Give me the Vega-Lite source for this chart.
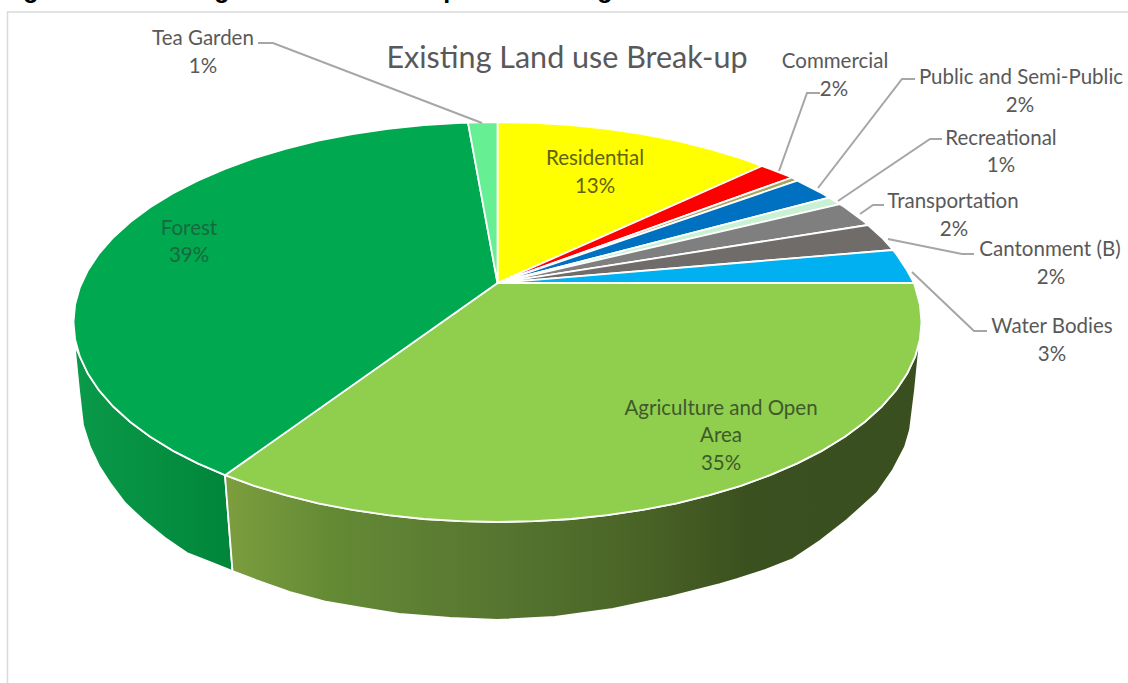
{"$schema":"https://vega.github.io/schema/vega-lite/v6.json","width":1128,"height":683,"padding":0,"autosize":{"type":"none"},"background":"white","config":{"view":{"stroke":null}},
"datasets":{
"walls":[
{"slice":"Forest","i":0,"x":74.5,"y":345},{"slice":"Forest","i":1,"x":79.9,"y":356.7},{"slice":"Forest","i":2,"x":88,"y":373.8},{"slice":"Forest","i":3,"x":99.1,"y":390.4},{"slice":"Forest","i":4,"x":113.2,"y":406.5},{"slice":"Forest","i":5,"x":130.3,"y":422},{"slice":"Forest","i":6,"x":150.2,"y":436.7},{"slice":"Forest","i":7,"x":172.7,"y":450.6},{"slice":"Forest","i":8,"x":197.7,"y":463.4},{"slice":"Forest","i":9,"x":225,"y":475.2},{"slice":"Forest","i":10,"x":232.5,"y":571},{"slice":"Forest","i":11,"x":210,"y":562},{"slice":"Forest","i":12,"x":187,"y":553},{"slice":"Forest","i":13,"x":165,"y":538},{"slice":"Forest","i":14,"x":143,"y":520},{"slice":"Forest","i":15,"x":125,"y":503},{"slice":"Forest","i":16,"x":110,"y":483},{"slice":"Forest","i":17,"x":99,"y":466},{"slice":"Forest","i":18,"x":90,"y":447},{"slice":"Forest","i":19,"x":83,"y":425},{"slice":"Forest","i":20,"x":79,"y":390},{"slice":"Forest","i":21,"x":74.5,"y":345},
{"slice":"Agriculture","i":0,"x":225,"y":475.2},{"slice":"Agriculture","i":1,"x":254.3,"y":485.8},{"slice":"Agriculture","i":2,"x":285.5,"y":495.2},{"slice":"Agriculture","i":3,"x":318.3,"y":503.3},{"slice":"Agriculture","i":4,"x":352.5,"y":509.9},{"slice":"Agriculture","i":5,"x":388,"y":515.2},{"slice":"Agriculture","i":6,"x":423.9,"y":519},{"slice":"Agriculture","i":7,"x":460.5,"y":521.2},{"slice":"Agriculture","i":8,"x":497.5,"y":522},{"slice":"Agriculture","i":9,"x":534.5,"y":521.2},{"slice":"Agriculture","i":10,"x":571.1,"y":519},{"slice":"Agriculture","i":11,"x":607.2,"y":515.2},{"slice":"Agriculture","i":12,"x":642.5,"y":509.9},{"slice":"Agriculture","i":13,"x":676.7,"y":503.3},{"slice":"Agriculture","i":14,"x":709.5,"y":495.2},{"slice":"Agriculture","i":15,"x":740.7,"y":485.8},{"slice":"Agriculture","i":16,"x":770,"y":475.2},{"slice":"Agriculture","i":17,"x":797.3,"y":463.4},{"slice":"Agriculture","i":18,"x":822.3,"y":450.6},{"slice":"Agriculture","i":19,"x":844.8,"y":436.7},{"slice":"Agriculture","i":20,"x":864.7,"y":422},{"slice":"Agriculture","i":21,"x":881.8,"y":406.5},{"slice":"Agriculture","i":22,"x":895.9,"y":390.4},{"slice":"Agriculture","i":23,"x":907,"y":373.8},{"slice":"Agriculture","i":24,"x":915.1,"y":356.7},{"slice":"Agriculture","i":25,"x":919.9,"y":339.4},{"slice":"Agriculture","i":26,"x":921.5,"y":325},{"slice":"Agriculture","i":27,"x":919,"y":350},{"slice":"Agriculture","i":28,"x":915,"y":390},{"slice":"Agriculture","i":29,"x":910,"y":430},{"slice":"Agriculture","i":30,"x":905,"y":447},{"slice":"Agriculture","i":31,"x":893,"y":470},{"slice":"Agriculture","i":32,"x":877,"y":493},{"slice":"Agriculture","i":33,"x":847,"y":520},{"slice":"Agriculture","i":34,"x":820,"y":541},{"slice":"Agriculture","i":35,"x":793,"y":559},{"slice":"Agriculture","i":36,"x":765,"y":570},{"slice":"Agriculture","i":37,"x":737,"y":579},{"slice":"Agriculture","i":38,"x":720,"y":584},{"slice":"Agriculture","i":39,"x":665,"y":598},{"slice":"Agriculture","i":40,"x":613,"y":609},{"slice":"Agriculture","i":41,"x":555,"y":617},{"slice":"Agriculture","i":42,"x":497,"y":620},{"slice":"Agriculture","i":43,"x":450,"y":618},{"slice":"Agriculture","i":44,"x":399,"y":614},{"slice":"Agriculture","i":45,"x":362,"y":608},{"slice":"Agriculture","i":46,"x":327,"y":602},{"slice":"Agriculture","i":47,"x":290,"y":592},{"slice":"Agriculture","i":48,"x":256,"y":580},{"slice":"Agriculture","i":49,"x":232.5,"y":571},{"slice":"Agriculture","i":50,"x":225,"y":475.2}
],
"slices":[
{"slice":"Residential","i":0,"x":497.5,"y":283},{"slice":"Residential","i":1,"x":497.5,"y":122},{"slice":"Residential","i":2,"x":534.5,"y":122.8},{"slice":"Residential","i":3,"x":571.1,"y":125},{"slice":"Residential","i":4,"x":607.2,"y":128.8},{"slice":"Residential","i":5,"x":642.5,"y":134.1},{"slice":"Residential","i":6,"x":676.7,"y":140.7},{"slice":"Residential","i":7,"x":709.5,"y":148.8},{"slice":"Residential","i":8,"x":740.7,"y":158.2},{"slice":"Residential","i":9,"x":762,"y":166},{"slice":"Residential","i":10,"x":497.5,"y":283},
{"slice":"Commercial","i":0,"x":497.5,"y":283},{"slice":"Commercial","i":1,"x":762,"y":166},{"slice":"Commercial","i":2,"x":770,"y":168.8},{"slice":"Commercial","i":3,"x":792,"y":177.5},{"slice":"Commercial","i":4,"x":497.5,"y":283},
{"slice":"Unlabelled","i":0,"x":497.5,"y":283},{"slice":"Unlabelled","i":1,"x":792,"y":177.5},{"slice":"Unlabelled","i":2,"x":797.3,"y":180.6},{"slice":"Unlabelled","i":3,"x":497.5,"y":283},
{"slice":"Public and Semi-Public","i":0,"x":497.5,"y":283},{"slice":"Public and Semi-Public","i":1,"x":797.3,"y":180.6},{"slice":"Public and Semi-Public","i":2,"x":822.3,"y":193.4},{"slice":"Public and Semi-Public","i":3,"x":829,"y":197.6},{"slice":"Public and Semi-Public","i":4,"x":497.5,"y":283},
{"slice":"Recreational","i":0,"x":497.5,"y":283},{"slice":"Recreational","i":1,"x":829,"y":197.6},{"slice":"Recreational","i":2,"x":840,"y":204.2},{"slice":"Recreational","i":3,"x":497.5,"y":283},
{"slice":"Transportation","i":0,"x":497.5,"y":283},{"slice":"Transportation","i":1,"x":840,"y":204.2},{"slice":"Transportation","i":2,"x":844.8,"y":207.3},{"slice":"Transportation","i":3,"x":864.7,"y":222},{"slice":"Transportation","i":4,"x":868,"y":225},{"slice":"Transportation","i":5,"x":497.5,"y":283},
{"slice":"Cantonment (B)","i":0,"x":497.5,"y":283},{"slice":"Cantonment (B)","i":1,"x":868,"y":225},{"slice":"Cantonment (B)","i":2,"x":881.8,"y":237.5},{"slice":"Cantonment (B)","i":3,"x":893,"y":250},{"slice":"Cantonment (B)","i":4,"x":497.5,"y":283},
{"slice":"Water Bodies","i":0,"x":497.5,"y":283},{"slice":"Water Bodies","i":1,"x":893,"y":250},{"slice":"Water Bodies","i":2,"x":895.9,"y":253.6},{"slice":"Water Bodies","i":3,"x":907,"y":270.2},{"slice":"Water Bodies","i":4,"x":914,"y":283},{"slice":"Water Bodies","i":5,"x":497.5,"y":283},
{"slice":"Agriculture and Open Area","i":0,"x":497.5,"y":283},{"slice":"Agriculture and Open Area","i":1,"x":914,"y":283},{"slice":"Agriculture and Open Area","i":2,"x":919.9,"y":304.6},{"slice":"Agriculture and Open Area","i":3,"x":921.5,"y":322},{"slice":"Agriculture and Open Area","i":4,"x":919.9,"y":339.4},{"slice":"Agriculture and Open Area","i":5,"x":915.1,"y":356.7},{"slice":"Agriculture and Open Area","i":6,"x":907,"y":373.8},{"slice":"Agriculture and Open Area","i":7,"x":895.9,"y":390.4},{"slice":"Agriculture and Open Area","i":8,"x":881.8,"y":406.5},{"slice":"Agriculture and Open Area","i":9,"x":864.7,"y":422},{"slice":"Agriculture and Open Area","i":10,"x":844.8,"y":436.7},{"slice":"Agriculture and Open Area","i":11,"x":822.3,"y":450.6},{"slice":"Agriculture and Open Area","i":12,"x":797.3,"y":463.4},{"slice":"Agriculture and Open Area","i":13,"x":770,"y":475.2},{"slice":"Agriculture and Open Area","i":14,"x":740.7,"y":485.8},{"slice":"Agriculture and Open Area","i":15,"x":709.5,"y":495.2},{"slice":"Agriculture and Open Area","i":16,"x":676.7,"y":503.3},{"slice":"Agriculture and Open Area","i":17,"x":642.5,"y":509.9},{"slice":"Agriculture and Open Area","i":18,"x":607.2,"y":515.2},{"slice":"Agriculture and Open Area","i":19,"x":571.1,"y":519},{"slice":"Agriculture and Open Area","i":20,"x":534.5,"y":521.2},{"slice":"Agriculture and Open Area","i":21,"x":497.5,"y":522},{"slice":"Agriculture and Open Area","i":22,"x":460.5,"y":521.2},{"slice":"Agriculture and Open Area","i":23,"x":423.9,"y":519},{"slice":"Agriculture and Open Area","i":24,"x":388,"y":515.2},{"slice":"Agriculture and Open Area","i":25,"x":352.5,"y":509.9},{"slice":"Agriculture and Open Area","i":26,"x":318.3,"y":503.3},{"slice":"Agriculture and Open Area","i":27,"x":285.5,"y":495.2},{"slice":"Agriculture and Open Area","i":28,"x":254.3,"y":485.8},{"slice":"Agriculture and Open Area","i":29,"x":225,"y":475.2},{"slice":"Agriculture and Open Area","i":30,"x":497.5,"y":283},
{"slice":"Forest","i":0,"x":497.5,"y":283},{"slice":"Forest","i":1,"x":225,"y":475.2},{"slice":"Forest","i":2,"x":197.7,"y":463.4},{"slice":"Forest","i":3,"x":172.7,"y":450.6},{"slice":"Forest","i":4,"x":150.2,"y":436.7},{"slice":"Forest","i":5,"x":130.3,"y":422},{"slice":"Forest","i":6,"x":113.2,"y":406.5},{"slice":"Forest","i":7,"x":99.1,"y":390.4},{"slice":"Forest","i":8,"x":88,"y":373.8},{"slice":"Forest","i":9,"x":79.9,"y":356.7},{"slice":"Forest","i":10,"x":75.1,"y":339.4},{"slice":"Forest","i":11,"x":73.5,"y":322},{"slice":"Forest","i":12,"x":75.1,"y":304.6},{"slice":"Forest","i":13,"x":79.9,"y":287.3},{"slice":"Forest","i":14,"x":88,"y":270.2},{"slice":"Forest","i":15,"x":99.1,"y":253.6},{"slice":"Forest","i":16,"x":113.2,"y":237.5},{"slice":"Forest","i":17,"x":130.3,"y":222},{"slice":"Forest","i":18,"x":150.2,"y":207.3},{"slice":"Forest","i":19,"x":172.7,"y":193.4},{"slice":"Forest","i":20,"x":197.7,"y":180.6},{"slice":"Forest","i":21,"x":225,"y":168.8},{"slice":"Forest","i":22,"x":254.3,"y":158.2},{"slice":"Forest","i":23,"x":285.5,"y":148.8},{"slice":"Forest","i":24,"x":318.3,"y":140.7},{"slice":"Forest","i":25,"x":352.5,"y":134.1},{"slice":"Forest","i":26,"x":388,"y":128.8},{"slice":"Forest","i":27,"x":423.9,"y":125},{"slice":"Forest","i":28,"x":460.5,"y":122.8},{"slice":"Forest","i":29,"x":468,"y":122.6},{"slice":"Forest","i":30,"x":497.5,"y":283},
{"slice":"Tea Garden","i":0,"x":497.5,"y":283},{"slice":"Tea Garden","i":1,"x":468,"y":122.6},{"slice":"Tea Garden","i":2,"x":497.5,"y":122},{"slice":"Tea Garden","i":3,"x":497.5,"y":283}
],
"leaders":[
{"label":"Tea Garden","i":0,"x":258,"y":43},{"label":"Tea Garden","i":1,"x":273,"y":43},{"label":"Tea Garden","i":2,"x":482,"y":123},
{"label":"Commercial","i":0,"x":820,"y":93},{"label":"Commercial","i":1,"x":807,"y":93},{"label":"Commercial","i":2,"x":779,"y":171},
{"label":"Public and Semi-Public","i":0,"x":915,"y":79},{"label":"Public and Semi-Public","i":1,"x":902,"y":79},{"label":"Public and Semi-Public","i":2,"x":818,"y":188},
{"label":"Recreational","i":0,"x":942,"y":139},{"label":"Recreational","i":1,"x":930,"y":139},{"label":"Recreational","i":2,"x":838,"y":201},
{"label":"Transportation","i":0,"x":884,"y":205},{"label":"Transportation","i":1,"x":873,"y":205},{"label":"Transportation","i":2,"x":860,"y":214},
{"label":"Cantonment (B)","i":0,"x":974,"y":254},{"label":"Cantonment (B)","i":1,"x":962,"y":254},{"label":"Cantonment (B)","i":2,"x":888,"y":239},
{"label":"Water Bodies","i":0,"x":987,"y":331},{"label":"Water Bodies","i":1,"x":974,"y":331},{"label":"Water Bodies","i":2,"x":912,"y":272}
],
"frame":[{"i":0,"x":7.5,"y":683},{"i":1,"x":7.5,"y":12},{"i":2,"x":1128,"y":12}],
"labels":[
{"slice":"Tea Garden","text":"Tea Garden","x":203,"y":37},{"slice":"Tea Garden","text":"1%","x":203,"y":65},
{"slice":"Commercial","text":"Commercial","x":835,"y":60},{"slice":"Commercial","text":"2%","x":834,"y":88},
{"slice":"Public and Semi-Public","text":"Public and Semi-Public","x":1021,"y":76},{"slice":"Public and Semi-Public","text":"2%","x":1020,"y":104},
{"slice":"Recreational","text":"Recreational","x":1001,"y":137},{"slice":"Recreational","text":"1%","x":1001,"y":164},
{"slice":"Transportation","text":"Transportation","x":953,"y":200},{"slice":"Transportation","text":"2%","x":954,"y":228},
{"slice":"Cantonment (B)","text":"Cantonment (B)","x":1050,"y":248},{"slice":"Cantonment (B)","text":"2%","x":1051,"y":276},
{"slice":"Water Bodies","text":"Water Bodies","x":1052,"y":325},{"slice":"Water Bodies","text":"3%","x":1052,"y":353},
{"slice":"Residential","text":"Residential","x":595,"y":157},{"slice":"Residential","text":"13%","x":595,"y":185},
{"slice":"Forest","text":"Forest","x":189,"y":227},{"slice":"Forest","text":"39%","x":189,"y":254},
{"slice":"Agriculture and Open Area","text":"Agriculture and Open","x":721,"y":407},{"slice":"Agriculture and Open Area","text":"Area","x":721,"y":434},{"slice":"Agriculture and Open Area","text":"35%","x":721,"y":462}
]
},
"layer":[
{"data":{"name":"frame"},"mark":{"type":"line","stroke":"#d9d9d9","strokeWidth":1.5},"encoding":{"x":{"field":"x","type":"quantitative","axis":null,"scale":{"domain":[0,1128],"nice":false,"zero":false}},"y":{"field":"y","type":"quantitative","axis":null,"scale":{"domain":[0,683],"reverse":true,"nice":false,"zero":false}},"order":{"field":"i"}}},
{"data":{"values":[{"text":"g","x":31},{"text":"g","x":222},{"text":"p","x":451},{"text":"g","x":605}]},"mark":{"type":"text","font":"Liberation Sans","fontWeight":"bold","fontSize":25,"baseline":"alphabetic","color":"black"},"encoding":{"x":{"field":"x","type":"quantitative"},"y":{"datum":-2.5,"type":"quantitative"},"text":{"field":"text"}}},
{"data":{"name":"walls"},"transform":[{"filter":"datum.slice=='Forest'"}],"mark":{"type":"line","filled":true,"stroke":"white","strokeWidth":1.8,"fill":{"gradient":"linear","x1":0,"x2":1,"y1":0,"y2":0,"stops":[{"offset":0,"color":"#0a9a49"},{"offset":1,"color":"#00853a"}]}},"encoding":{"x":{"field":"x","type":"quantitative"},"y":{"field":"y","type":"quantitative"},"order":{"field":"i"}}},
{"data":{"name":"walls"},"transform":[{"filter":"datum.slice=='Agriculture'"}],"mark":{"type":"line","filled":true,"stroke":"white","strokeWidth":1.8,"fill":{"gradient":"linear","x1":0,"x2":1,"y1":0,"y2":0,"stops":[{"offset":0,"color":"#7c9e3e"},{"offset":0.15,"color":"#648a35"},{"offset":0.4,"color":"#567530"},{"offset":0.6,"color":"#496326"},{"offset":0.75,"color":"#3b501f"},{"offset":1,"color":"#3a4f20"}]}},"encoding":{"x":{"field":"x","type":"quantitative"},"y":{"field":"y","type":"quantitative"},"order":{"field":"i"}}},
{"data":{"name":"slices"},"mark":{"type":"line","filled":true,"stroke":"white","strokeWidth":1.8,"strokeJoin":"round"},"encoding":{"x":{"field":"x","type":"quantitative"},"y":{"field":"y","type":"quantitative"},"order":{"field":"i"},"color":{"field":"slice","type":"nominal","legend":null,"scale":{"domain":["Residential","Commercial","Unlabelled","Public and Semi-Public","Recreational","Transportation","Cantonment (B)","Water Bodies","Agriculture and Open Area","Forest","Tea Garden"],"range":["#ffff00","#ff0000","#a6a663","#0070c0","#c9f2d5","#7f7f7f","#706c6a","#00b0f0","#90ce4e","#00a84f","#66f093"]}}}},
{"data":{"name":"leaders"},"mark":{"type":"line","stroke":"#a6a6a6","strokeWidth":2},"encoding":{"x":{"field":"x","type":"quantitative"},"y":{"field":"y","type":"quantitative"},"order":{"field":"i"},"detail":{"field":"label"}}},
{"data":{"name":"labels"},"mark":{"type":"text","font":"Lato","fontSize":20.5,"baseline":"middle","align":"center","dy":1.5},"encoding":{"x":{"field":"x","type":"quantitative"},"y":{"field":"y","type":"quantitative"},"text":{"field":"text"},"color":{"field":"slice","type":"nominal","legend":null,"scale":{"domain":["Residential","Forest","Agriculture and Open Area","Tea Garden","Commercial","Public and Semi-Public","Recreational","Transportation","Cantonment (B)","Water Bodies"],"range":["#62620f","#17683f","#3f5a2a","#595959","#595959","#595959","#595959","#595959","#595959","#595959"]}}}},
{"data":{"values":[{"text":"Existing Land use Break-up","x":567,"y":57}]},"mark":{"type":"text","font":"Lato","fontSize":30.5,"baseline":"middle","align":"center","color":"#595959","dy":1.5},"encoding":{"x":{"field":"x","type":"quantitative"},"y":{"field":"y","type":"quantitative"},"text":{"field":"text"}}}
],
"resolve":{"scale":{"color":"independent"}}
}
